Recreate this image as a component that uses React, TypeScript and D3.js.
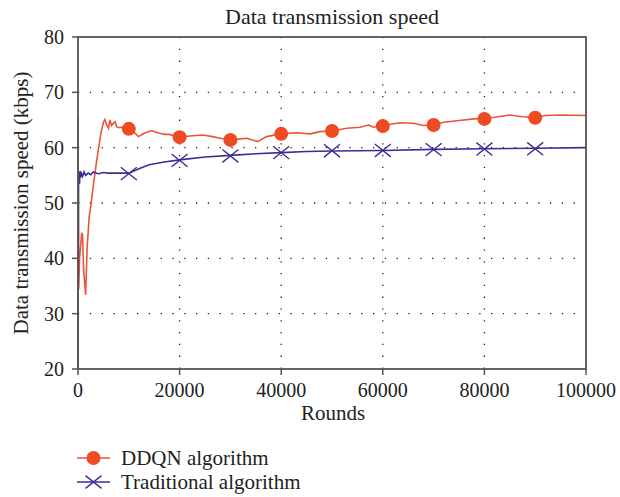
import React from "react";
import * as d3 from "d3";

const redRounds = [0, 150, 300, 500, 730, 900, 1100, 1500, 1800, 2200, 2600, 3000, 3500, 4000, 4500, 5000, 5300, 5600, 6000, 6300, 6600, 6950, 7300, 7600, 8100, 8600, 9200, 10000, 11000, 11900, 13000, 14500, 15300, 16100, 17000, 18000, 19000, 20000, 22000, 24600, 26500, 28000, 30000, 31200, 33200, 35400, 37100, 40000, 43000, 45700, 47600, 50000, 52900, 55500, 57200, 58200, 60000, 63400, 66000, 68000, 70000, 72000, 75000, 78000, 80000, 82000, 85000, 87500, 90000, 92000, 95000, 100000];
const redValues = [65.8, 34.5, 40, 42, 44.6, 44.2, 38, 33.4, 42, 47.5, 50, 53, 56.5, 59.6, 62.5, 64.6, 65.1, 64.2, 63.5, 65.0, 64.0, 64.4, 64.7, 63.8, 63.6, 63.7, 63.2, 63.4, 62.8, 62.0, 62.6, 63.1, 62.8, 62.6, 62.4, 62.4, 62.1, 61.9, 62.1, 62.3, 62.0, 61.7, 61.4, 61.5, 61.7, 61.1, 62.0, 62.5, 62.7, 62.5, 62.9, 63.0, 63.5, 63.7, 64.1, 63.7, 64.0, 64.5, 64.4, 64.0, 64.1, 64.6, 64.9, 65.2, 65.3, 65.5, 65.9, 65.6, 65.4, 65.8, 65.9, 65.8];

const blueRounds = [0, 60, 100, 200, 300, 400, 500, 700, 900, 1200, 1500, 2000, 2500, 3000, 4000, 5000, 6000, 8000, 10000, 12000, 14000, 17000, 20000, 25000, 30000, 35000, 40000, 45000, 50000, 60000, 70000, 80000, 90000, 100000];
const blueValues = [20, 40, 54, 55.5, 53.5, 55.8, 54.6, 55.3, 54.8, 55.6, 55.0, 55.4, 55.1, 55.6, 55.3, 55.5, 55.4, 55.4, 55.4, 56.2, 56.9, 57.4, 57.8, 58.3, 58.6, 58.9, 59.1, 59.3, 59.4, 59.5, 59.7, 59.8, 59.9, 60.0];

const markerRounds = [10000, 20000, 30000, 40000, 50000, 60000, 70000, 80000, 90000];
const redMarkers = [63.4, 61.9, 61.4, 62.5, 63.0, 63.9, 64.1, 65.2, 65.4];
const blueMarkers = [55.3, 57.7, 58.5, 59.1, 59.45, 59.5, 59.65, 59.75, 59.8];

const xTicks = [0, 20000, 40000, 60000, 80000, 100000];
const yTicks = [20, 30, 40, 50, 60, 70, 80];

const seriesNames = ["DDQN algorithm", "Traditional algorithm"];

const RED = "#e8553a";
const RED_M = "#f04a25";
const BLUE = "#3b2f96";
const FONT = "'Liberation Serif', 'Times New Roman', serif";

export default function App() {
  const L = 78, R = 586, T = 37, B = 369;
  const x = d3.scaleLinear().domain([0, 100000]).range([L, R]);
  const y = d3.scaleLinear().domain([20, 80]).range([B, T]);
  const line = d3.line<[number, number]>().x(d => x(d[0])).y(d => y(d[1]));
  const redPts = redRounds.map((r, i) => [r, redValues[i]] as [number, number]);
  const bluePts = blueRounds.map((r, i) => [r, blueValues[i]] as [number, number]);
  const xs = 8;

  return (
    <svg width={620} height={497} style={{ position: "absolute", left: 0, top: 0, background: "#fff" }} fontFamily={FONT}>
      <text x={332} y={24} textAnchor="middle" fontSize={22} fill="#222">Data transmission speed</text>
      {/* grid */}
      {xTicks.slice(1, -1).map(t => (
        <line key={"gx" + t} x1={x(t)} x2={x(t)} y1={T} y2={B} stroke="#222" strokeWidth={1.3} strokeDasharray="1.3 10.5" />
      ))}
      {yTicks.slice(1, -1).map(t => (
        <line key={"gy" + t} x1={L} x2={R} y1={y(t)} y2={y(t)} stroke="#222" strokeWidth={1.3} strokeDasharray="1.3 10.5" />
      ))}
      {/* series */}
      <path d={line(redPts) || ""} fill="none" stroke={RED} strokeWidth={1.6} />
      <path d={line(bluePts) || ""} fill="none" stroke={BLUE} strokeWidth={1.6} />
      {markerRounds.map((r, i) => (
        <circle key={"rm" + r} cx={x(r)} cy={y(redMarkers[i])} r={7} fill={RED_M} />
      ))}
      {markerRounds.map((r, i) => {
        const cx = x(r), cy = y(blueMarkers[i]);
        return (
          <g key={"bm" + r} stroke={BLUE} strokeWidth={1.4}>
            <line x1={cx - xs} y1={cy - xs * 0.8} x2={cx + xs} y2={cy + xs * 0.8} />
            <line x1={cx - xs} y1={cy + xs * 0.8} x2={cx + xs} y2={cy - xs * 0.8} />
          </g>
        );
      })}
      {/* frame */}
      <rect x={L} y={T} width={R - L} height={B - T} fill="none" stroke="#555" strokeWidth={1.8} />
      {/* ticks */}
      {yTicks.map(t => (
        <g key={"yt" + t}>
          <line x1={L - 6} x2={L} y1={y(t)} y2={y(t)} stroke="#555" strokeWidth={1.5} />
          <text x={L - 14} y={y(t) + 7} textAnchor="end" fontSize={20} fill="#222">{t}</text>
        </g>
      ))}
      {xTicks.map(t => (
        <g key={"xt" + t}>
          <line x1={x(t)} x2={x(t)} y1={B} y2={B + 6} stroke="#555" strokeWidth={1.5} />
          <text x={x(t)} y={B + 28} textAnchor="middle" fontSize={20} fill="#222">{t}</text>
        </g>
      ))}
      <text x={333} y={420} textAnchor="middle" fontSize={21} fill="#222">Rounds</text>
      <text transform={`translate(28,203) rotate(-90)`} textAnchor="middle" fontSize={21} fill="#222">Data transmission speed (kbps)</text>
      {/* legend */}
      <line x1={77} x2={110} y1={458} y2={458} stroke={RED} strokeWidth={1.6} />
      <circle cx={93.5} cy={458} r={7} fill={RED_M} />
      <text x={121} y={465} fontSize={21} fill="#222">{seriesNames[0]}</text>
      <line x1={77} x2={110} y1={482} y2={482} stroke={BLUE} strokeWidth={1.6} />
      <g stroke={BLUE} strokeWidth={1.4}>
        <line x1={93.5 - xs} y1={482 - xs * 0.8} x2={93.5 + xs} y2={482 + xs * 0.8} />
        <line x1={93.5 - xs} y1={482 + xs * 0.8} x2={93.5 + xs} y2={482 - xs * 0.8} />
      </g>
      <text x={121} y={489} fontSize={21} fill="#222">{seriesNames[1]}</text>
    </svg>
  );
}
